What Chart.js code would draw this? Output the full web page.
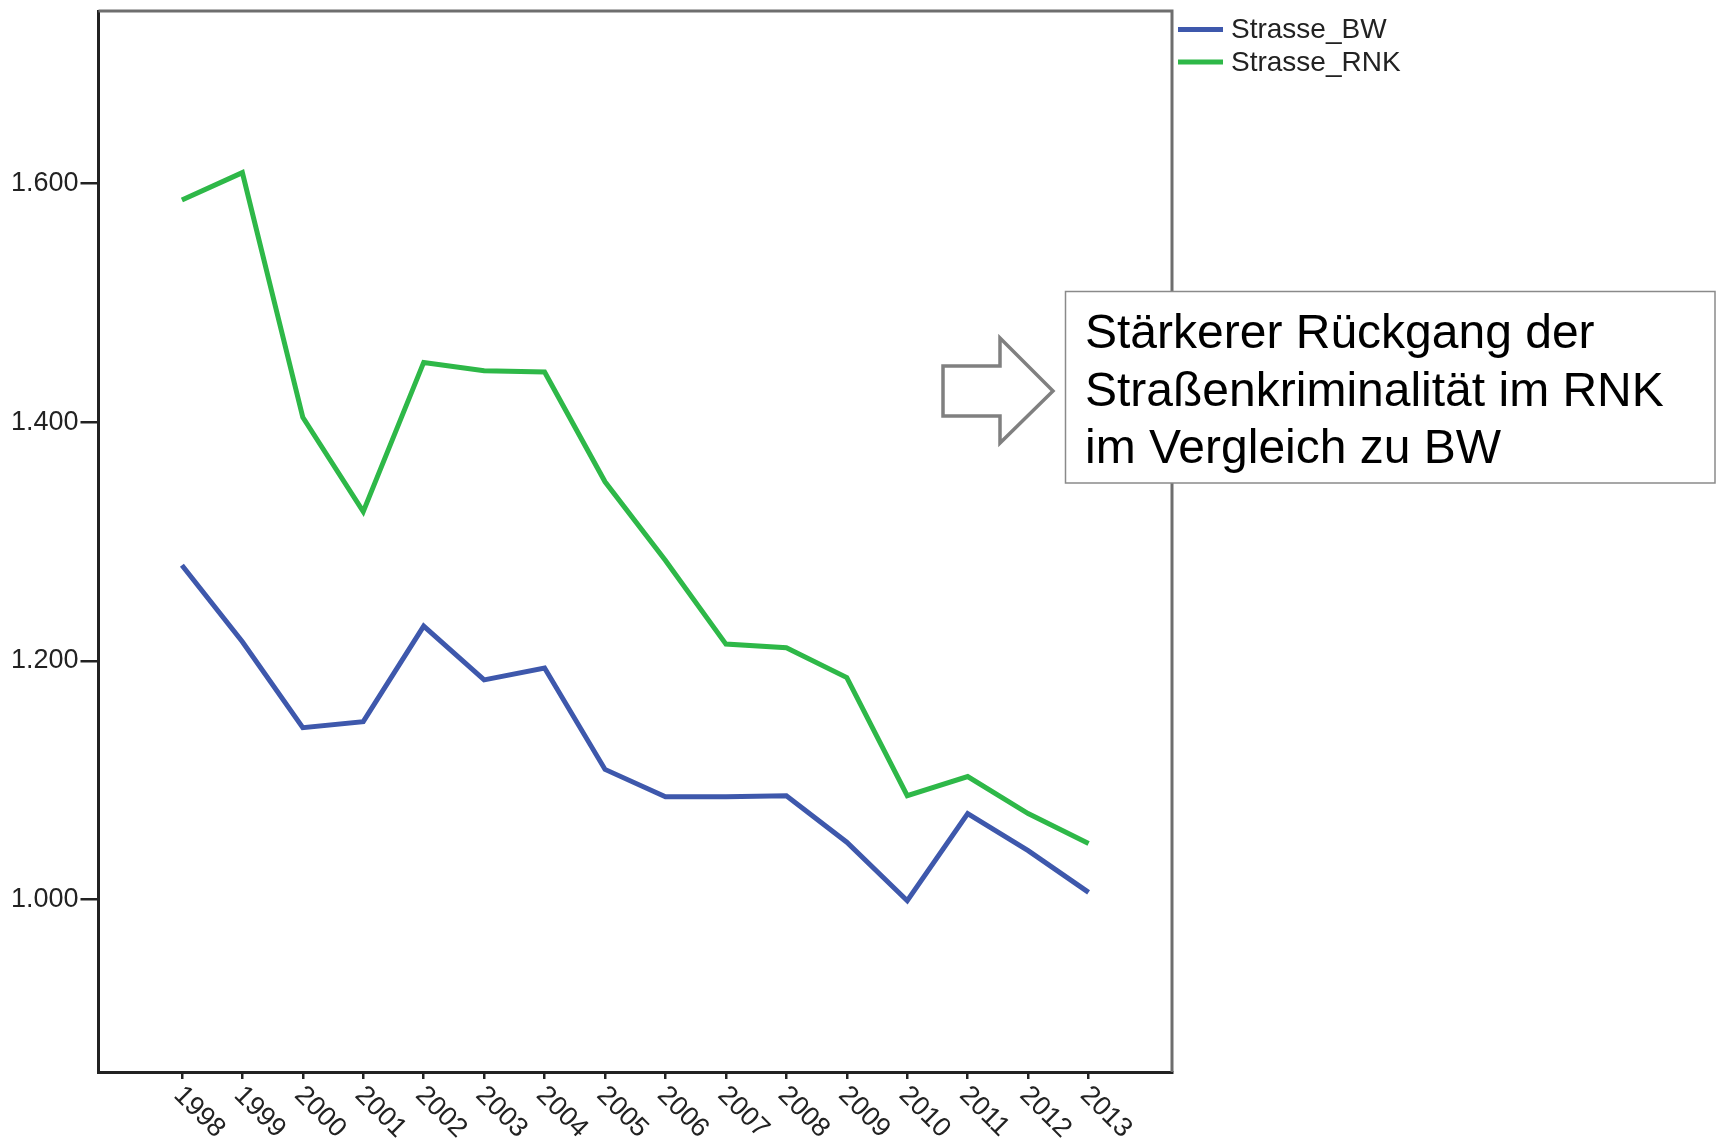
<!DOCTYPE html>
<html>
<head>
<meta charset="utf-8">
<script src="https://cdn.jsdelivr.net/npm/chart.js@4/dist/chart.umd.min.js"></script>
<style>
  html, body { margin: 0; padding: 0; background: #fff; }
  #wrap { width: 1717px; height: 1142px; position: relative; }
</style>
</head>
<body>
<div id="wrap"><canvas id="c" width="1717" height="1142"></canvas></div>
<script>
// Straßenkriminalität je Jahr
const years = [1998, 1999, 2000, 2001, 2002, 2003, 2004, 2005, 2006, 2007, 2008, 2009, 2010, 2011, 2012, 2013];
const strasseBW  = [1280, 1216, 1144, 1149, 1229, 1184, 1194, 1109, 1086, 1086, 1087, 1048, 999, 1072, 1041, 1006];
const strasseRNK = [1586, 1609, 1404, 1325, 1450, 1443, 1442, 1350, 1284, 1214, 1211, 1186, 1087, 1103, 1072, 1047];
const seriesNames = ['Strasse_BW', 'Strasse_RNK'];
const seriesColors = ['#3E58AC', '#2EB848'];
const yTickValues = [1000, 1200, 1400, 1600];
const noteLines = ['Stärkerer Rückgang der', 'Straßenkriminalität im RNK', 'im Vergleich zu BW'];

const FONT = '"Liberation Sans", Arial, sans-serif';
const fmt = v => String(v).replace(/\B(?=(\d{3})+(?!\d))/g, '.');

function toPoints(vals) {
  return years.map((y, i) => ({ x: y, y: vals[i] }));
}

// frame, rotated year labels, legend and the note box
const decorations = {
  id: 'decorations',
  afterDraw(chart) {
    const ctx = chart.ctx;
    const a = chart.chartArea;
    const xs = chart.scales.x;

    ctx.save();
    // top and right frame lines
    ctx.strokeStyle = '#6e6e6e';
    ctx.lineWidth = 3;
    ctx.beginPath();
    ctx.moveTo(a.left, a.top);
    ctx.lineTo(a.right, a.top);
    ctx.lineTo(a.right, a.bottom);
    ctx.stroke();

    // year labels, rotated clockwise
    ctx.fillStyle = '#222';
    ctx.font = '27px ' + FONT;
    ctx.textAlign = 'left';
    ctx.textBaseline = 'middle';
    years.forEach(yr => {
      const px = xs.getPixelForValue(yr);
      ctx.save();
      ctx.translate(px - 4, a.bottom + 19);
      ctx.rotate(Math.PI / 4);
      ctx.fillText(String(yr), 0, 0);
      ctx.restore();
    });

    // legend
    chart.data.datasets.forEach((ds, i) => {
      const ly = 29.5 + i * 32.5;
      ctx.strokeStyle = ds.borderColor;
      ctx.lineWidth = 5;
      ctx.beginPath();
      ctx.moveTo(1178, ly);
      ctx.lineTo(1223, ly);
      ctx.stroke();
      ctx.fillStyle = '#222';
      ctx.font = '28px ' + FONT;
      ctx.textBaseline = 'middle';
      ctx.fillText(ds.label, 1231, ly + 1);
    });

    // block arrow
    ctx.strokeStyle = '#808080';
    ctx.lineWidth = 3.5;
    ctx.lineJoin = 'miter';
    ctx.beginPath();
    ctx.moveTo(943, 366);
    ctx.lineTo(1000, 366);
    ctx.lineTo(1000, 338);
    ctx.lineTo(1053, 391);
    ctx.lineTo(1000, 443);
    ctx.lineTo(1000, 416);
    ctx.lineTo(943, 416);
    ctx.closePath();
    ctx.stroke();

    // note box
    ctx.fillStyle = '#fff';
    ctx.fillRect(1065.5, 291.5, 649.5, 191.5);
    ctx.strokeStyle = '#8a8a8a';
    ctx.lineWidth = 1.5;
    ctx.strokeRect(1065.5, 291.5, 649.5, 191.5);
    ctx.fillStyle = '#000';
    ctx.font = '48px ' + FONT;
    ctx.textBaseline = 'alphabetic';
    noteLines.forEach((t, i) => ctx.fillText(t, 1085, 348 + i * 57.5));
    ctx.restore();
  }
};

new Chart(document.getElementById('c'), {
  type: 'line',
  data: {
    datasets: [
      { label: seriesNames[0], data: toPoints(strasseBW), borderColor: seriesColors[0], backgroundColor: seriesColors[0] },
      { label: seriesNames[1], data: toPoints(strasseRNK), borderColor: seriesColors[1], backgroundColor: seriesColors[1] }
    ]
  },
  options: {
    responsive: false,
    animation: false,
    devicePixelRatio: 1,
    layout: { padding: { top: 11, right: 545, bottom: 0, left: 0 } },
    elements: {
      line: { borderWidth: 5, tension: 0, borderJoinStyle: 'miter', borderCapStyle: 'butt' },
      point: { radius: 0, hoverRadius: 0 }
    },
    plugins: { legend: { display: false }, tooltip: { enabled: false } },
    scales: {
      x: {
        type: 'linear',
        min: 1996.62,
        max: 2014.38,
        afterBuildTicks: s => { s.ticks = years.map(v => ({ value: v })); },
        afterFit: s => { s.height = 70; s.paddingLeft = 0; s.paddingRight = 0; },
        ticks: { display: false },
        grid: { drawOnChartArea: false, drawTicks: true, tickLength: 7, color: '#222', lineWidth: 2.5 },
        border: { display: true, color: '#222', width: 3 }
      },
      y: {
        min: 855.5,
        max: 1744.4,
        afterBuildTicks: s => { s.ticks = yTickValues.map(v => ({ value: v })); },
        afterFit: s => { s.width = 98.5; s.paddingTop = 0; s.paddingBottom = 0; },
        ticks: {
          color: '#222',
          padding: 2,
          font: { family: FONT, size: 27 },
          callback: v => fmt(v)
        },
        grid: { drawOnChartArea: false, drawTicks: true, tickLength: 18, color: '#222', lineWidth: 2.5 },
        border: { display: true, color: '#222', width: 3 }
      }
    }
  },
  plugins: [decorations]
});
</script>
</body>
</html>
